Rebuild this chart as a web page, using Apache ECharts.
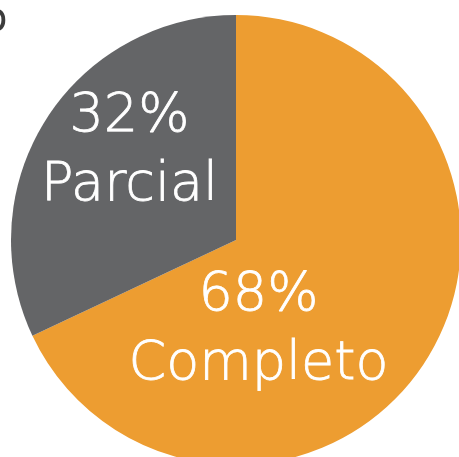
<!DOCTYPE html>
<html>
  <head>
    <meta charset="UTF-8" />
    <title></title>
    <style type="text/css">
      html,
      body {
        width: 100%;
        height: 100%;
        margin: 0;
        padding: 0;
        overflow: hidden;
        background: #fff;
      }
      #chart {
        width: 459px;
        height: 457px;
      }
    </style>
  </head>
  <body>
    <div id="chart"></div>
    <script src="https://cdn.jsdelivr.net/npm/echarts@6/dist/echarts.min.js"></script>
    <script type="text/javascript">
      const categories = ["Completo", "Parcial"];
      const values = [68, 32];
      const colors = ["#ED9D31", "#646567"];
      // label nudges so the text sits where the original had it
      const labelOffsets = [
        [-75, 29],
        [-9, -27],
      ];

      const mychart = echarts.init(document.getElementById("chart"));

      const option = {
        backgroundColor: "#fff",
        animation: false,
        graphic: [
          {
            // cut-off title glyph at the top-left edge
            type: "text",
            left: -17,
            top: 1,
            style: {
              text: "o",
              fontSize: 40,
              fontFamily: "DejaVu Sans",
              fill: "#3c3c3c",
            },
          },
        ],
        series: [
          {
            type: "pie",
            center: [236, 240],
            radius: 225,
            startAngle: 90,
            clockwise: true,
            label: {
              show: true,
              position: "inside",
              color: "#fff",
              fontFamily: "DejaVu Sans",
              fontWeight: 200,
              fontSize: 54,
              lineHeight: 69,
              align: "center",
              textBorderColor: "#fff",
              textBorderWidth: 0.8,
              formatter: (p) => p.value + "%\n" + p.name,
            },
            labelLine: { show: false },
            emphasis: { disabled: true },
            data: categories.map((name, i) => ({
              name: name,
              value: values[i],
              itemStyle: { color: colors[i] },
              label: { offset: labelOffsets[i] },
            })),
          },
        ],
      };
      mychart.setOption(option);
    </script>
  </body>
</html>
